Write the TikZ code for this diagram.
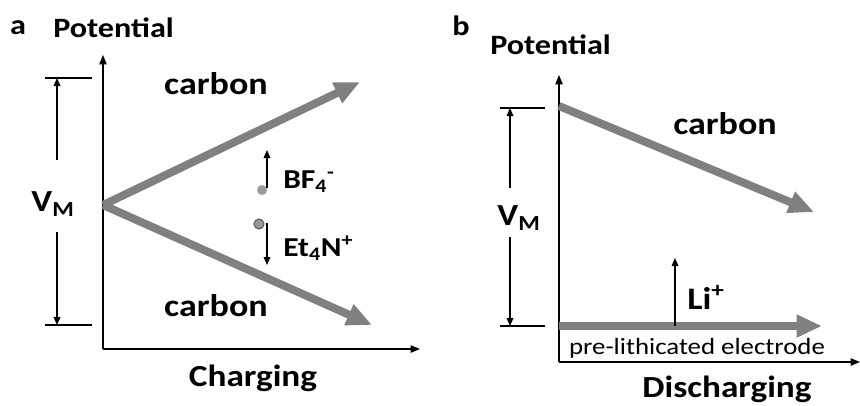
\documentclass[tikz,border=0pt]{standalone}
\usepackage{fontspec}
\setmainfont[FakeStretch=1.15]{Carlito}
\usetikzlibrary{positioning,arrows.meta,calc}
\definecolor{CurveGray}{HTML}{808080}
\definecolor{DotGray}{HTML}{9A9A9A}
\definecolor{DotEdge}{HTML}{5A5A5A}

\tikzset{
  axis/.style={line width=0.9pt, -{Triangle[length=7pt,width=5.5pt]}},
  ion/.style={line width=0.9pt, -{Triangle[length=6pt,width=5pt]}},
  tickline/.style={line width=0.9pt},
  curve/.style={draw=CurveGray, line width=6pt, -{Triangle[length=19pt,width=16pt]}},
  tag/.style={inner sep=0pt, font=\bfseries\fontsize{21}{25}\selectfont},
  lbl/.style={inner sep=0pt, font=\bfseries\fontsize{23.5}{28}\selectfont},
  ionlbl/.style={inner sep=0pt, font=\bfseries\fontsize{20.5}{24}\selectfont},
  biglbl/.style={inner sep=0pt, font=\bfseries\fontsize{23}{28}\selectfont},
  vlbl/.style={inner sep=0pt, font=\bfseries\fontsize{23}{28}\selectfont},
  smalllbl/.style={inner sep=0pt, font=\fontsize{17.5}{20}\selectfont},
  dot/.style={circle, inner sep=0pt, minimum size=7.5pt, fill=DotGray}
}

\begin{document}
\begin{tikzpicture}[x=0.75pt, y=-0.75pt]
  \useasboundingbox (0,0) rectangle (860,405);

  % panel a: charging
  \node[tag] (aTag) at (18,28) {a};
  \node[tag, anchor=west] (aPot) at (53,28) {Potential};
  \coordinate (aO) at (103,349);
  \coordinate (aYtop) at (103,55);
  \coordinate (aXend) at (420,349);
  \draw[axis] (aO) -- (aYtop);
  \draw[axis] (aO) -- (aXend);
  \node[biglbl] (aChg) at (253,378) {Charging};

  \coordinate (aStart) at (103,205);
  \coordinate (aUp) at (360,82);
  \coordinate (aDown) at (372,325);
  \draw[curve] (aStart) -- (aUp);
  \draw[curve] (aStart) -- (aDown);
  \node[lbl] (aCarbUp) at (216,84) {carbon};
  \node[lbl] (aCarbDn) at (216,306) {carbon};

  % V_M bracket
  \coordinate (aT1) at (45,78);
  \coordinate (aT2) at (92,78);
  \coordinate (aB1) at (45,325);
  \coordinate (aB2) at (92,325);
  \draw[tickline] (aT1) -- (aT2);
  \draw[tickline] (aB1) -- (aB2);
  \node[vlbl] (aVM) at (53,204) {V\textsubscript{M}};
  \coordinate (aVt) at (57,78);
  \coordinate (aVb) at (57,325);
  \coordinate (aGapT) at (57,160);
  \coordinate (aGapB) at (57,232);
  \draw[ion] (aGapT) -- (aVt);
  \draw[ion] (aGapB) -- (aVb);

  % ions
  \node[dot] (anion) at (262,190) {};
  \node[dot, draw=DotEdge, line width=0.8pt] (cation) at (259,224) {};
  \coordinate (anA) at (267,188);
  \coordinate (anB) at (267,150);
  \coordinate (caA) at (267,223);
  \coordinate (caB) at (267,265);
  \draw[ion] (anA) -- (anB);
  \draw[ion] (caA) -- (caB);
  \node[ionlbl, anchor=west] (bfLbl) at (283,182) {BF\textsubscript{4}\textsuperscript{-}};
  \node[ionlbl, anchor=west] (etLbl) at (283,248) {Et\textsubscript{4}N\textsuperscript{+}};

  % panel b: discharging
  \node[tag] (bTag) at (461,26) {b};
  \node[tag, anchor=west] (bPot) at (490,45) {Potential};
  \coordinate (bO) at (559,362);
  \coordinate (bYtop) at (559,75);
  \coordinate (bXend) at (860,362);
  \draw[axis] (bO) -- (bYtop);
  \draw[axis] (bO) -- (bXend);
  \node[biglbl] (bDis) at (727,389) {Discharging};

  \coordinate (bStart) at (559,106);
  \coordinate (bEnd) at (814,212);
  \draw[curve] (bStart) -- (bEnd);
  \node[lbl] (bCarb) at (725,124) {carbon};

  \coordinate (bLow) at (559,326);
  \coordinate (bLowEnd) at (822,326);
  \draw[curve] (bLow) -- (bLowEnd);
  \node[smalllbl] (bPre) at (697,348) {pre-lithicated electrode};

  \coordinate (bLiA) at (675,326);
  \coordinate (bLiB) at (675,258);
  \draw[ion] (bLiA) -- (bLiB);
  \node[lbl, anchor=west] (bLi) at (687,297) {Li\textsuperscript{+}};

  % V_M bracket
  \coordinate (bT1) at (500,108);
  \coordinate (bT2) at (545,108);
  \coordinate (bB1) at (500,326);
  \coordinate (bB2) at (545,326);
  \draw[tickline] (bT1) -- (bT2);
  \draw[tickline] (bB1) -- (bB2);
  \node[vlbl] (bVM) at (519,218) {V\textsubscript{M}};
  \coordinate (bVt) at (510,108);
  \coordinate (bVb) at (510,326);
  \coordinate (bGapT) at (510,188);
  \coordinate (bGapB) at (510,237);
  \draw[ion] (bGapT) -- (bVt);
  \draw[ion] (bGapB) -- (bVb);
\end{tikzpicture}
\end{document}
